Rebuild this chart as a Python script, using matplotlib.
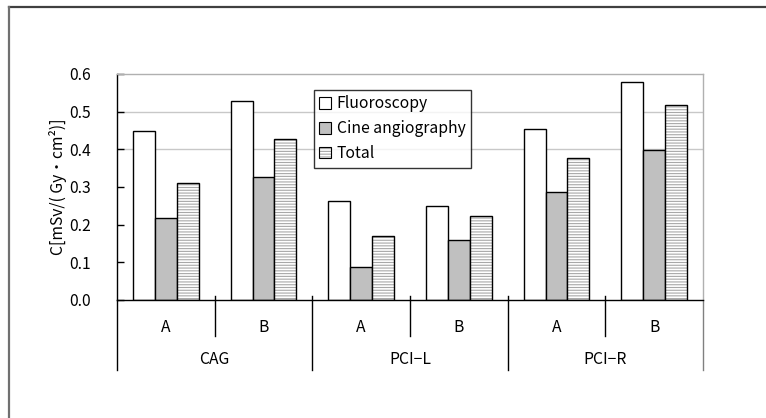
"""Effective dose conversion factor C by procedure and room (Fluoroscopy / Cine / Total)."""

import matplotlib

matplotlib.use("Agg")
import matplotlib.pyplot as plt
import matplotlib.transforms as mtransforms
from matplotlib.lines import Line2D
from matplotlib.patches import Patch

plt.rcParams["font.family"] = ["Noto Sans CJK JP", "DejaVu Sans"]
plt.rcParams["hatch.linewidth"] = 0.8

procedures = ["CAG", "PCI\u2212L", "PCI\u2212R"]
rooms = ["A", "B"]
series_names = ["Fluoroscopy", "Cine angiography", "Total"]
fluoroscopy = [0.449, 0.528, 0.263, 0.250, 0.453, 0.580]
cine = [0.218, 0.326, 0.088, 0.158, 0.286, 0.398]
total = [0.310, 0.427, 0.170, 0.224, 0.376, 0.518]
y_ticks = [0.0, 0.1, 0.2, 0.3, 0.4, 0.5, 0.6]
grid_values = [0.4, 0.5]

FONT = 11.3
HATCH_GRAY = "#a8a8a8"
CINE_GRAY = "#c0c0c0"

fig = plt.figure(figsize=(7.66, 4.18), dpi=100)
ax = fig.add_axes([117 / 766, 1 - 300 / 418, 586 / 766, 226 / 418])

positions = list(range(len(fluoroscopy)))
width = 0.225

for value in grid_values:
    ax.axhline(value, color="#c8c8c8", linewidth=1.0, zorder=0)

ax.bar([p - width for p in positions], fluoroscopy, width,
       facecolor="white", edgecolor="black", linewidth=1.0, zorder=2)
ax.bar(positions, cine, width,
       facecolor=CINE_GRAY, edgecolor="black", linewidth=1.0, zorder=2)
ax.bar([p + width for p in positions], total, width,
       facecolor="white", edgecolor=HATCH_GRAY, hatch="------", linewidth=0, zorder=2)
ax.bar([p + width for p in positions], total, width,
       fill=False, edgecolor="black", linewidth=1.0, zorder=3)

ax.set_xlim(-0.5, len(positions) - 0.5)
ax.set_ylim(0, 0.6)
ax.set_yticks(y_ticks)
ax.set_yticklabels([f"{v:.1f}" for v in y_ticks], fontsize=FONT)
ax.tick_params(axis="y", direction="in", length=5, width=1.0, pad=19)
ax.set_xticks([])
for side in ["top", "right"]:
    ax.spines[side].set_color("#b0b0b0")
    ax.spines[side].set_linewidth(1.0)
for side in ["left", "bottom"]:
    ax.spines[side].set_color("black")
    ax.spines[side].set_linewidth(1.0)

ax.set_ylabel("C[mSv/( Gy・cm²)]", fontsize=FONT, labelpad=1)

# two-level category axis underneath
trans = mtransforms.blended_transform_factory(ax.transData, ax.transAxes)
inner_depth = -36 / 226
outer_depth = -70 / 226
nudge = 4 / 226
for i in range(len(procedures)):
    mid = 2 * i + 0.5
    ax.add_line(Line2D([mid, mid], [nudge, inner_depth], transform=trans,
                       color="black", linewidth=1.0, clip_on=False))
for i in range(len(procedures) + 1):
    edge = 2 * i - 0.5
    color = "#808080" if i == len(procedures) else "black"
    ax.add_line(Line2D([edge, edge], [nudge if 0 < i < len(procedures) else 0, outer_depth],
                       transform=trans, color=color, linewidth=1.0, clip_on=False))
for p in positions:
    ax.text(p, -28 / 226, rooms[p % 2], transform=trans, ha="center", va="center",
            fontsize=FONT)
for i, name in enumerate(procedures):
    ax.text(2 * i + 0.5, -60 / 226, name, transform=trans, ha="center", va="center",
            fontsize=FONT)

handles = [
    Patch(facecolor="white", edgecolor="black", linewidth=0.8),
    Patch(facecolor=CINE_GRAY, edgecolor="black", linewidth=0.8),
    (Patch(facecolor="white", edgecolor=HATCH_GRAY, hatch="------", linewidth=0),
     Patch(fill=False, edgecolor="black", linewidth=0.8)),
]
legend = ax.legend(handles, series_names, loc="upper left",
                   bbox_to_anchor=((314 - 117) / 586, (300 - 90) / 226),
                   fontsize=FONT, frameon=True, fancybox=False, shadow=False,
                   handlelength=0.75, handleheight=0.75, handletextpad=0.35,
                   labelspacing=0.5, borderpad=0.35, borderaxespad=0)
legend.get_frame().set_edgecolor("black")
legend.get_frame().set_linewidth(1.0)
legend.set_zorder(5)

# outer chart border (only top and left visible in the crop)
fig.add_artist(Line2D([9 / 766, 1], [1 - 7 / 418, 1 - 7 / 418], transform=fig.transFigure,
                      color="#404040", linewidth=1.6))
fig.add_artist(Line2D([9 / 766, 9 / 766], [0, 1 - 7 / 418], transform=fig.transFigure,
                      color="#707070", linewidth=1.6))

fig.savefig("out.png", dpi=100)
